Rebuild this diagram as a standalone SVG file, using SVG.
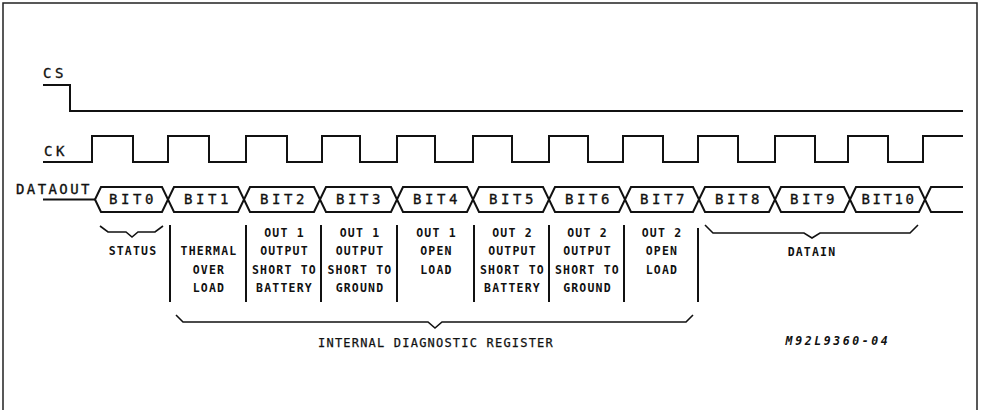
<svg xmlns="http://www.w3.org/2000/svg" width="981" height="410" viewBox="0 0 981 410">
<style>
.w{fill:none;stroke:#111;stroke-width:2;stroke-linejoin:miter}
.br{fill:none;stroke:#111;stroke-width:1.6}
.sig{font-family:"DejaVu Sans Mono","Liberation Mono",monospace;font-size:14px;letter-spacing:3.6px;fill:#111;stroke:#111;stroke-width:0.35}
.bit{font-family:"DejaVu Sans Mono","Liberation Mono",monospace;font-size:14px;letter-spacing:3.6px;fill:#111;stroke:#111;stroke-width:0.35;text-anchor:middle}
.lb{font-family:"DejaVu Sans Mono","Liberation Mono",monospace;font-size:11.5px;font-weight:bold;letter-spacing:1.2px;fill:#111;text-anchor:middle}
.reg{font-family:"DejaVu Sans Mono","Liberation Mono",monospace;font-size:12px;letter-spacing:1.2px;fill:#111;stroke:#111;stroke-width:0.25;text-anchor:middle}
.sep{stroke:#111;stroke-width:2}
</style>
<rect width="981" height="410" fill="#fff"/>
<path d="M3,410 V3 H977 V410" fill="none" stroke="#222" stroke-width="1.5"/>

<g id="cs">
<text class="sig" x="43" y="78">CS</text>
<path class="w" d="M43,85 H70 V111 H963"/>
</g>

<g id="ck">
<text class="sig" x="44" y="156">CK</text>
<path class="w" d="M43,162 H92 V136 H133 V162 H168 V136 H209 V162 H246 V136 H287 V162 H322 V136 H360 V162 H397 V136 H435 V162 H473 V136 H512 V162 H549 V136 H588 V162 H623 V136 H663 V162 H698 V136 H738 V162 H775 V136 H815 V162 H848 V136 H888 V162 H923 V136 H963"/>
</g>

<g id="dataout">
<text class="sig" x="16" y="194" style="letter-spacing:2.4px">DATAOUT</text>
<path class="w" d="M43,199.5 H95"/>
<polyline class="w" points="95,199.5 101,187 162,187 174,212 238,212 250,187 314,187 326,212 391,212 403,187 467,187 479,212 543,212 555,187 619,187 631,212 693,212 705,187 769,187 781,212 844,212 856,187 919,187 931,212 963,212"/>
<polyline class="w" points="95,199.5 101,212 162,212 174,187 238,187 250,212 314,212 326,187 391,187 403,212 467,212 479,187 543,187 555,212 619,212 631,187 693,187 705,212 769,212 781,187 844,187 856,212 919,212 931,187 963,187"/>
<text class="bit" x="133" y="204">BIT0</text>
<text class="bit" x="208" y="204">BIT1</text>
<text class="bit" x="284" y="204">BIT2</text>
<text class="bit" x="360" y="204">BIT3</text>
<text class="bit" x="437" y="204">BIT4</text>
<text class="bit" x="513" y="204">BIT5</text>
<text class="bit" x="589" y="204">BIT6</text>
<text class="bit" x="664" y="204">BIT7</text>
<text class="bit" x="739" y="204">BIT8</text>
<text class="bit" x="814" y="204">BIT9</text>
<text class="bit" x="889" y="204" style="letter-spacing:2.6px">BIT10</text>
</g>

<g id="connectors">
<path class="br" d="M100,226 L108,232 H126 L132,237 L138,232 H155 L163,226"/>
<path class="br" d="M176,315 L183,322 H428 L435,328 L442,322 H686 L693,315"/>
<path class="br" d="M705,225 L713,233 H804 L812,238 L820,233 H910 L918,225"/>
<line class="sep" x1="170" y1="225" x2="170" y2="302"/>
<line class="sep" x1="246" y1="225" x2="246" y2="302"/>
<line class="sep" x1="321" y1="225" x2="321" y2="302"/>
<line class="sep" x1="397" y1="225" x2="397" y2="302"/>
<line class="sep" x1="474" y1="225" x2="474" y2="302"/>
<line class="sep" x1="549" y1="225" x2="549" y2="302"/>
<line class="sep" x1="624" y1="225" x2="624" y2="302"/>
<line class="sep" x1="698" y1="228" x2="698" y2="302"/>
</g>

<g id="status"><text class="lb" x="133" y="255">STATUS</text></g>
<g id="col-bit1">
<text class="lb" x="209" y="255">THERMAL</text>
<text class="lb" x="209" y="273.5">OVER</text>
<text class="lb" x="209" y="292">LOAD</text>
</g>
<g id="col-bit2">
<text class="lb" x="284.5" y="237">OUT 1</text>
<text class="lb" x="284.5" y="255">OUTPUT</text>
<text class="lb" x="284.5" y="273.5">SHORT TO</text>
<text class="lb" x="284.5" y="292">BATTERY</text>
</g>
<g id="col-bit3">
<text class="lb" x="360" y="237">OUT 1</text>
<text class="lb" x="360" y="255">OUTPUT</text>
<text class="lb" x="360" y="273.5">SHORT TO</text>
<text class="lb" x="360" y="292">GROUND</text>
</g>
<g id="col-bit4">
<text class="lb" x="436.5" y="237">OUT 1</text>
<text class="lb" x="436.5" y="255">OPEN</text>
<text class="lb" x="436.5" y="273.5">LOAD</text>
</g>
<g id="col-bit5">
<text class="lb" x="512.5" y="237">OUT 2</text>
<text class="lb" x="512.5" y="255">OUTPUT</text>
<text class="lb" x="512.5" y="273.5">SHORT TO</text>
<text class="lb" x="512.5" y="292">BATTERY</text>
</g>
<g id="col-bit6">
<text class="lb" x="587.5" y="237">OUT 2</text>
<text class="lb" x="587.5" y="255">OUTPUT</text>
<text class="lb" x="587.5" y="273.5">SHORT TO</text>
<text class="lb" x="587.5" y="292">GROUND</text>
</g>
<g id="col-bit7">
<text class="lb" x="662" y="237">OUT 2</text>
<text class="lb" x="662" y="255">OPEN</text>
<text class="lb" x="662" y="273.5">LOAD</text>
</g>
<g id="datain"><text class="lb" x="812" y="256">DATAIN</text></g>
<g id="register"><text class="reg" x="436" y="347">INTERNAL DIAGNOSTIC REGISTER</text></g>
<g id="code"><text class="lb" x="838" y="345" style="font-style:italic;letter-spacing:2.6px">M92L9360-04</text></g>
</svg>
